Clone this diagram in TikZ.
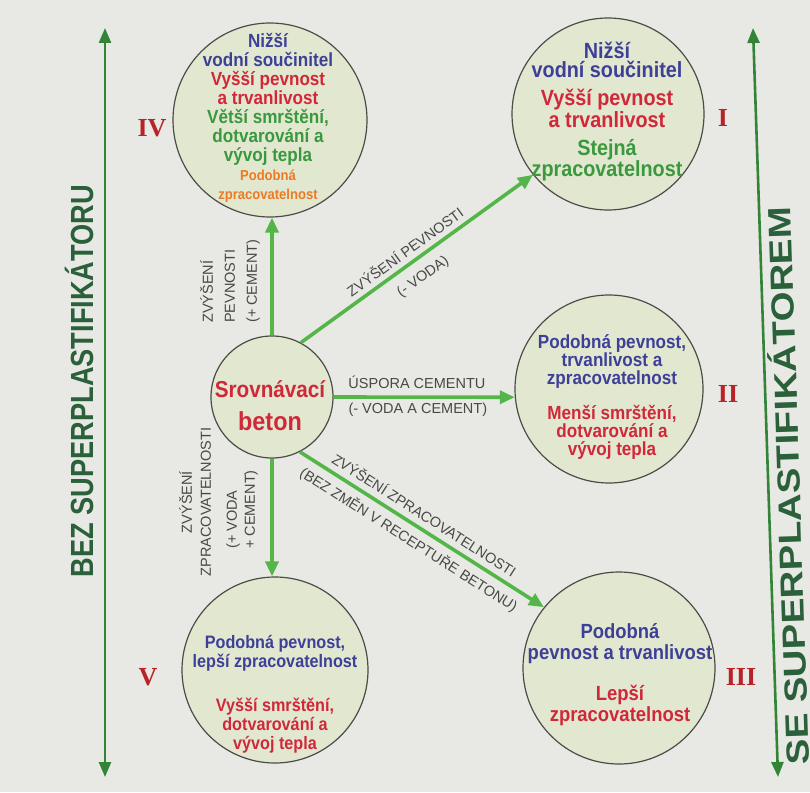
\documentclass[tikz,border=0pt]{standalone}
\usepackage{fontspec}
\setmainfont{Liberation Sans}
\newfontfamily\cbf[FakeStretch=0.9]{Liberation Sans}
\newfontfamily\sidefont[FakeStretch=0.85]{Liberation Sans}
\newfontfamily\sidefontw[FakeStretch=1.2]{Liberation Sans}
\newfontfamily\romfont{Liberation Serif}
\usetikzlibrary{arrows.meta}
\definecolor{bgc}{RGB}{232,233,228}
\definecolor{circfill}{RGB}{226,232,208}
\definecolor{circline}{RGB}{75,75,72}
\definecolor{tblue}{RGB}{62,64,152}
\definecolor{tred}{RGB}{208,40,58}
\definecolor{tgreen}{RGB}{58,152,62}
\definecolor{torange}{RGB}{236,122,34}
\definecolor{romred}{RGB}{185,35,40}
\definecolor{arrgreen}{RGB}{84,182,72}
\definecolor{sidegreen}{RGB}{52,132,56}
\definecolor{sidetext}{RGB}{42,96,58}
\definecolor{labgray}{RGB}{72,72,70}
\newcommand\blu[1]{\textcolor{tblue}{#1}}
\newcommand\rdd[1]{\textcolor{tred}{#1}}
\newcommand\grn[1]{\textcolor{tgreen}{#1}}
\newcommand\orn[1]{\textcolor{torange}{#1}}
\begin{document}
\begin{tikzpicture}[x=1pt,y=-1pt,
  bubble/.style={circle, draw=circline, line width=1.2pt, fill=circfill, inner sep=0pt},
  ctext/.style={align=center, inner sep=0pt},
  flow/.style={draw=arrgreen, line width=3.6pt, -{Triangle[length=15pt,width=13pt]}},
  lab/.style={font=\fontsize{14.5}{17}\selectfont, text=labgray, inner sep=1pt},
  roman/.style={font=\romfont\bfseries\fontsize{26}{26}\selectfont, text=romred, inner sep=0pt},
  sidearrow/.style={draw=sidegreen, line width=2.6pt, {Triangle[length=15pt,width=12pt]}-{Triangle[length=15pt,width=12pt]}},
  sidelab/.style={font=\sidefont\bfseries\fontsize{32}{32}\selectfont, text=sidetext, inner sep=0pt}
]
\useasboundingbox (0,0) rectangle (810,792);
\fill[bgc] (0,0) rectangle (810,792);

% side arrows
\coordinate (Ltop) at (105,28);
\coordinate (Lbot) at (105,777);
\coordinate (Rtop) at (753,28);
\coordinate (Rbot) at (778,777);
\draw[sidearrow] (Ltop) -- (Lbot);
\draw[sidearrow] (Rtop) -- (Rbot);
\node[sidelab, rotate=90] (Llab) at (79,381) {BEZ SUPERPLASTIFIKÁTORU};
\node[sidelab, rotate=91.9, font=\sidefontw\bfseries\fontsize{32}{32}\selectfont] (Rlab) at (786,486) {SE SUPERPLASTIFIKÁTOREM};

% circles
\node[bubble, minimum size=194pt] (IV) at (270,120) {};
\node[bubble, minimum size=192pt] (I) at (608,114) {};
\node[bubble, minimum size=188pt] (II) at (609,389) {};
\node[bubble, minimum size=122pt] (C) at (272,397) {};
\node[bubble, minimum size=186pt] (V) at (275,670) {};
\node[bubble, minimum size=192pt] (III) at (619,668) {};

% circle texts
\node[ctext, font=\cbf\bfseries\fontsize{19}{19}\selectfont] (IVt) at (268,118)
 {\blu{Nižší}\\\blu{vodní součinitel}\\\rdd{Vyšší pevnost}\\\rdd{a trvanlivost}\\
  \grn{Větší smrštění,}\\\grn{dotvarování a}\\\grn{vývoj tepla}\\
  \orn{\fontsize{14.5}{16}\selectfont Podobná}\\\orn{\fontsize{14.5}{16}\selectfont zpracovatelnost}};
\node[ctext, font=\cbf\bfseries\fontsize{22}{19}\selectfont] (It) at (607,112)
 {\blu{Nižší}\\\blu{vodní součinitel}\\[9pt]\rdd{Vyšší pevnost}\\\rdd{a trvanlivost}\\[9pt]
  \grn{Stejná}\\\grn{zpracovatelnost}};
\node[ctext, font=\cbf\bfseries\fontsize{19}{18}\selectfont] (IIt) at (612,397)
 {\blu{Podobná pevnost,}\\\blu{trvanlivost a}\\\blu{zpracovatelnost}\\[16pt]
  \rdd{Menší smrštění,}\\\rdd{dotvarování a}\\\rdd{vývoj tepla}};
\node[ctext, font=\cbf\bfseries\fontsize{23}{33}\selectfont] (Ct) at (270,406)
 {\rdd{Srovnávací}\\\rdd{\fontsize{26}{33}\selectfont beton}};
\node[ctext, font=\cbf\bfseries\fontsize{18}{19}\selectfont] (Vt) at (275,694)
 {\blu{Podobná pevnost,}\\\blu{lepší zpracovatelnost}\\[25pt]
  \rdd{Vyšší smrštění,}\\\rdd{dotvarování a}\\\rdd{vývoj tepla}};
\node[ctext, font=\cbf\bfseries\fontsize{20.5}{21}\selectfont] (IIIt) at (620,675)
 {\blu{Podobná}\\\blu{pevnost a trvanlivost}\\[20pt]
  \rdd{Lepší}\\\rdd{zpracovatelnost}};

% roman numerals
\node[roman] (rIV) at (152,128) {IV};
\node[roman] (rI) at (723,118) {I};
\node[roman] (rII) at (728,394) {II};
\node[roman] (rIII) at (741,677) {III};
\node[roman] (rV) at (148,677) {V};

% connectors
\draw[flow] (C.north) -- (C.north |- IV.south);
\draw[flow] (C.62.6) -- (I.219.4)
  node[lab, pos=0.48, sloped, above=4pt] (l1a) {ZVÝŠENÍ PEVNOSTI}
  node[lab, pos=0.48, sloped, below=9pt] (l1b) {(- VODA)};
\draw[flow] (C.east) -- (II.185)
  node[lab, pos=0.46, above=6pt] (l2a) {ÚSPORA CEMENTU}
  node[lab, pos=0.465, below=3pt] (l2b) {(- VODA A CEMENT)};
\draw[flow] (C.south) -- (C.south |- V.north);
\draw[flow] (C.-63.4) -- (III.141.3)
  node[lab, pos=0.48, sloped, above=5pt] (l3a) {ZVÝŠENÍ ZPRACOVATELNOSTI}
  node[lab, pos=0.48, sloped, below=5pt] (l3b) {(BEZ ZMĚN V RECEPTUŘE BETONU)};

% vertical labels
\node[lab, rotate=90, align=left, anchor=west, font=\fontsize{14.5}{22}\selectfont] (l4) at (230,324)
  {ZVÝŠENÍ\\PEVNOSTI\\(+ CEMENT)};
\node[lab, rotate=90, align=center, font=\fontsize{14.5}{19}\selectfont] (l5a) at (195,502)
  {ZVÝŠENÍ\\ZPRACOVATELNOSTI};
\node[lab, rotate=90, align=left, anchor=west, font=\fontsize{14.5}{18}\selectfont] (l5b) at (242,550)
  {(+ VODA\\+ CEMENT)};
\end{tikzpicture}
\end{document}
